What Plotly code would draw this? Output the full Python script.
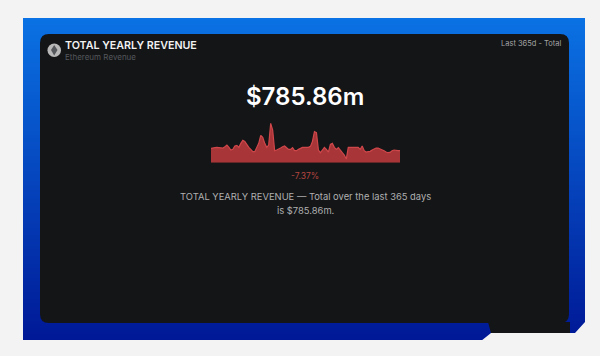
import plotly.graph_objects as go

W, H = 600, 356

# Daily revenue estimate ($m), read from the sparkline
revenue = [2.15, 2.25, 2.25, 2.3, 2.25, 2.2, 2.2, 2.4, 2.65, 2.3, 1.9, 2.0, 2.5, 2.6, 2.3, 2.9,
           3.35, 3.2, 2.7, 2.3, 2.0, 1.65, 1.65, 2.3, 2.9, 4.1, 3.8, 2.9, 2.3, 2.65, 5.9, 4.9,
           1.8, 1.9, 2.0, 2.2, 2.4, 2.5, 2.25, 2.0, 2.0, 2.25, 1.8, 1.8, 2.0, 2.2, 2.3, 2.3,
           2.3, 2.3, 2.45, 3.2, 4.65, 4.5, 1.9, 1.5, 1.9, 2.3, 2.0, 1.6, 2.75, 2.9, 2.3,
           2.0, 2.25, 1.8, 1.5, 1.15, 0.55, 2.3, 2.3, 2.3, 2.4, 2.3, 2.3, 2.0, 2.5, 1.8, 1.6, 1.65,
           1.7, 1.9, 2.1, 2.2, 2.2, 2.1, 2.0, 1.8, 1.6, 1.5, 1.55, 1.8, 1.9, 1.8, 1.8, 1.8]
days = list(range(len(revenue)))

title = "TOTAL YEARLY REVENUE"
subtitle = "Ethereum Revenue"
period = "Last 365d - Total"
total = "$785.86m"
change = "-7.37%"
desc_line1 = "TOTAL YEARLY REVENUE — Total over the last 365 days"
desc_line2 = "is $785.86m."

FONT = "Inter, Roboto, sans-serif"
PAGE = "#f3f3f3"
CARD = "#131517"

px = lambda x: x / W
py = lambda y: 1 - y / H


def lerp(a, b, t):
    return round(a + (b - a) * t)


shapes = []
# blue gradient panel, drawn as thin bands
TOP, BOT = 18, 340
C0, C1 = (10, 114, 228), (0, 24, 150)
for y in range(TOP, BOT):
    t = (y - TOP) / (BOT - TOP)
    col = f"rgb({lerp(C0[0], C1[0], t)},{lerp(C0[1], C1[1], t)},{lerp(C0[2], C1[2], t)})"
    shapes.append(dict(type="rect", xref="paper", yref="paper", layer="below",
                       x0=px(23), x1=px(585), y0=py(y), y1=py(min(y + 1.5, BOT)),
                       fillcolor=col, line_width=0))


def poly(points, fill):
    d = "M" + " L".join(f"{px(x)},{py(y)}" for x, y in points) + " Z"
    return dict(type="path", xref="paper", yref="paper", layer="below", path=d,
                fillcolor=fill, line_width=0)


# torn-off bottom-right area of the page and its chamfered corner
shapes.append(poly([(481, 341), (491, 333), (575, 333), (585, 322), (590, 322), (590, 345), (481, 345)], PAGE))
# dark card with rounded corners
r = 9
x0, x1, y0, y1 = px(40), px(569), py(34), py(323)
rx, ry = r / W, r / H
card = (f"M{x0 + rx},{y0} L{x1 - rx},{y0} Q{x1},{y0} {x1},{y0 - ry} L{x1},{y1 + ry} "
        f"Q{x1},{y1} {x1 - rx},{y1} L{x0 + rx},{y1} Q{x0},{y1} {x0},{y1 + ry} "
        f"L{x0},{y0 - ry} Q{x0},{y0} {x0 + rx},{y0} Z")
shapes.append(dict(type="path", xref="paper", yref="paper", layer="below", path=card,
                   fillcolor=CARD, line_width=0))
shapes.append(poly([(488, 322), (570, 322), (570, 333), (491, 333)], CARD))
# coin icon
shapes.append(dict(type="circle", xref="paper", yref="paper", layer="below",
                   x0=px(47.5), x1=px(61), y0=py(43.5), y1=py(57),
                   fillcolor="#b9b9b9", line_width=0))
shapes.append(poly([(54.2, 45), (57.5, 50), (54.2, 55.5), (51, 50)], "#55585c"))

fig = go.Figure(go.Scatter(x=days, y=revenue, mode="lines", fill="tozeroy",
                           fillcolor="#a83538", line=dict(color="#cf474a", width=1.2),
                           hoverinfo="skip"))


def note(x, y, text, size, color, anchor="left", weight=400):
    return dict(xref="paper", yref="paper", x=px(x), y=py(y), text=text, showarrow=False,
                xanchor=anchor, yanchor="middle", align="center" if anchor == "center" else anchor,
                font=dict(family=FONT, size=size, color=color, weight=weight))


annotations = [
    note(62.5, 46, title, 10.7, "#f2f2f2", weight=600),
    note(62.5, 57, subtitle, 8, "#55585c"),
    note(564, 44, period, 7.5, "#a4a4a4", "right"),
    note(305, 96, total, 24, "#ffffff", "center", 600),
    note(305, 176, change, 8.5, "#b5453f", "center"),
    note(305, 196.5, desc_line1, 9.4, "#b0b0b0", "center"),
    note(305, 211, desc_line2, 9.4, "#b0b0b0", "center"),
]

fig.update_layout(
    width=W, height=H, margin=dict(l=0, r=0, t=0, b=0), autosize=False,
    paper_bgcolor=PAGE, plot_bgcolor="rgba(0,0,0,0)", showlegend=False,
    shapes=shapes, annotations=annotations,
    xaxis=dict(domain=[px(211), px(400)], range=[0, len(revenue) - 1], visible=False, fixedrange=True),
    yaxis=dict(domain=[py(162.7), py(122.7)], range=[0, 6], visible=False, fixedrange=True),
)
fig.write_html("out.html", config=dict(displayModeBar=False),
               post_script="document.body.style.margin='0';document.body.style.background='#f3f3f3';")
